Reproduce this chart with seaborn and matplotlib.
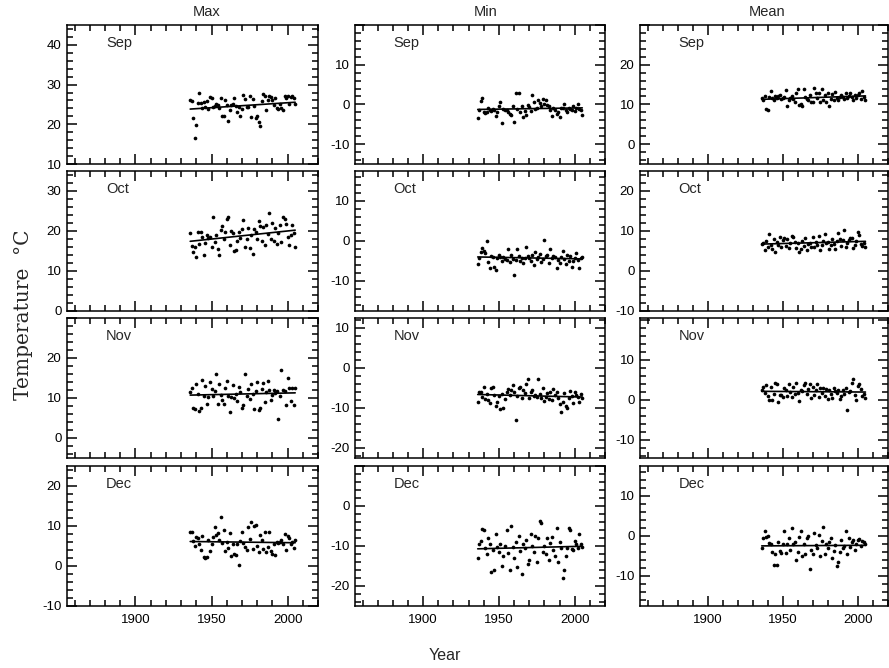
import matplotlib
matplotlib.use("Agg")
import matplotlib.pyplot as plt
from matplotlib.ticker import MultipleLocator, FuncFormatter
import seaborn as sns
import pandas as pd

sns.set_style("ticks")
plt.rcParams["font.family"] = ["Liberation Sans", "DejaVu Sans"]
plt.rcParams["axes.unicode_minus"] = False

years = list(range(1936, 2006))
months = ["Sep", "Oct", "Nov", "Dec"]
stats = ["Max", "Min", "Mean"]

max_sep = [26.2, 25.8, 21.7, 16.5, 19.7, 25.3, 27.8, 25.4, 24.0, 25.6,
           24.3, 25.8, 23.9, 26.8, 26.7, 24.3, 24.6, 25.2, 24.8, 24.2,
           26.5, 22.2, 22.0, 26.0, 24.8, 20.9, 23.6, 24.9, 25.0, 26.6,
           24.6, 23.2, 24.4, 22.2, 23.8, 27.5, 26.3, 24.4, 24.4, 27.0,
           21.8, 26.3, 24.7, 21.6, 22.0, 20.5, 19.5, 25.8, 27.6, 27.0,
           23.5, 26.2, 27.2, 26.8, 26.0, 24.9, 26.6, 24.0, 23.8, 25.0,
           24.0, 23.5, 27.2, 26.5, 27.0, 25.0, 26.8, 27.2, 26.5, 25.0]
max_oct = [19.4, 16.3, 14.7, 16.1, 13.6, 19.8, 16.7, 19.8, 18.6, 14.1,
           17.0, 19.0, 18.2, 18.5, 16.0, 23.6, 17.3, 19.0, 15.4, 13.9,
           20.3, 21.2, 18.0, 19.8, 23.0, 23.4, 16.6, 20.1, 19.5, 15.1,
           15.3, 17.6, 19.8, 18.3, 20.6, 22.8, 16.0, 18.0, 20.7, 15.8,
           18.9, 14.2, 20.5, 19.8, 18.0, 22.4, 21.3, 17.5, 21.0, 16.5,
           21.4, 19.2, 24.6, 18.1, 22.0, 17.6, 20.7, 16.8, 19.4, 21.6,
           17.2, 23.6, 23.1, 21.8, 18.5, 16.4, 19.0, 21.5, 19.6, 16.1]
max_nov = [11.5, 12.6, 7.6, 7.2, 13.6, 11.0, 6.8, 7.4, 14.5, 10.6,
           13.0, 8.6, 10.3, 14.0, 12.3, 10.5, 11.8, 16.0, 8.5, 13.6,
           10.8, 9.4, 8.4, 12.5, 14.3, 10.6, 6.6, 10.2, 13.3, 10.0,
           10.9, 9.2, 12.8, 11.5, 7.5, 8.2, 16.0, 10.6, 12.2, 9.8,
           13.6, 10.9, 7.2, 11.8, 14.0, 6.9, 7.4, 12.3, 13.8, 9.0,
           11.6, 14.2, 12.1, 9.4, 10.8, 12.0, 11.2, 11.7, 4.8, 10.5,
           17.0, 12.0, 11.7, 8.3, 15.0, 12.4, 9.2, 12.6, 8.3, 12.4]
max_dec = [8.6, 8.4, 6.2, 4.9, 7.3, 7.1, 5.5, 4.0, 7.4, 2.3,
           1.9, 2.2, 6.6, 3.8, 5.4, 7.3, 9.8, 7.8, 8.2, 6.5,
           12.2, 5.8, 9.0, 3.7, 6.0, 4.5, 8.3, 2.5, 5.5, 3.0,
           2.8, 5.6, 0.3, 6.2, 8.5, 5.8, 4.7, 3.9, 9.7, 6.7,
           11.0, 4.3, 10.0, 10.2, 5.1, 3.5, 7.8, 6.5, 4.2, 8.6,
           3.5, 4.8, 8.6, 3.8, 3.0, 5.5, 2.8, 6.1, 5.8, 6.0,
           6.4, 5.4, 8.0, 4.0, 7.5, 7.0, 5.5, 5.9, 4.6, 6.6]

min_sep = [-3.5, -1.5, 0.8, 1.5, -2.0, -2.1, -1.9, -1.0, -1.5, -1.6,
           -1.2, -1.5, -3.0, -1.9, -0.3, 0.5, -4.8, -1.1, -1.3, -1.4,
           -2.0, -2.3, -2.6, -0.3, -4.3, 2.8, -1.2, 3.0, -1.9, -0.5,
           -3.2, -1.7, -2.6, -0.1, -0.6, -1.6, 2.5, 0.6, -1.2, -0.8,
           1.0, 0.3, -0.5, 1.3, 0.0, 1.2, -0.1, -0.4, -1.4, -2.8,
           -1.0, -1.5, -2.4, -1.8, -3.1, -0.9, -1.0, 0.0, -1.3, -2.0,
           -0.8, -1.2, -1.5, -0.3, -1.6, -0.8, 0.1, -1.1, -1.4, -2.7]
min_oct = [-5.8, -4.2, -2.7, -1.7, -2.5, -3.0, 0.0, -5.2, -6.8, -3.8,
           -4.0, -6.5, -7.2, -4.3, -3.6, -4.0, -5.0, -3.9, -4.5, -4.8,
           -2.0, -5.3, -3.5, -4.6, -8.5, -4.7, -2.0, -3.8, -5.0, -4.2,
           -5.5, -4.3, -1.5, -3.7, -4.2, -5.0, -3.5, -6.0, -2.8, -4.4,
           -4.0, -3.3, -5.2, -4.6, 0.3, -3.8, -3.5, -5.5, -2.0, -4.2,
           -3.7, -3.9, -6.8, -4.8, -5.5, -4.1, -2.5, -4.6, -5.8, -3.5,
           -4.9, -3.8, -6.5, -5.0, -4.3, -3.0, -4.7, -6.8, -4.2, -3.9]
min_nov = [-8.5, -6.0, -5.9, -7.2, -4.8, -7.8, -6.5, -8.0, -8.8, -5.0,
           -4.7, -6.8, -9.5, -8.4, -7.0, -10.2, -6.5, -10.0, -7.8, -6.0,
           -5.2, -6.7, -5.5, -4.3, -6.1, -13.0, -6.9, -5.0, -4.8, -7.5,
           -5.5, -6.2, -4.0, -2.8, -7.5, -6.0, -5.4, -7.0, -6.8, -7.2,
           -2.7, -6.5, -7.6, -5.0, -8.3, -7.2, -6.3, -7.7, -6.0, -8.1,
           -5.2, -6.7, -5.9, -7.4, -9.0, -11.0, -8.5, -6.2, -9.6, -10.0,
           -7.5, -5.8, -7.1, -8.8, -6.1, -6.8, -7.3, -8.6, -6.5, -7.5]
min_dec = [-13.0, -9.5, -8.7, -5.8, -5.9, -10.5, -12.0, -8.0, -9.5, -16.5,
           -11.0, -16.0, -7.0, -10.3, -11.5, -9.5, -15.0, -12.5, -10.0, -6.0,
           -11.8, -16.0, -4.9, -10.3, -13.0, -9.0, -15.3, -7.5, -11.2, -17.0,
           -9.5, -10.5, -8.5, -14.5, -13.5, -7.0, -10.0, -11.5, -7.5, -14.0,
           -8.0, -3.7, -4.3, -11.5, -10.0, -12.0, -8.0, -13.5, -9.3, -7.8,
           -11.0, -12.5, -5.5, -14.0, -9.0, -10.5, -18.0, -16.0, -12.5, -10.5,
           -5.6, -6.0, -10.8, -11.0, -8.8, -9.5, -10.5, -6.9, -9.5, -10.2]

mean_sep = [11.5, 11.0, 12.2, 8.8, 8.5, 11.8, 13.3, 11.5, 11.0, 12.0,
            11.6, 12.0, 12.3, 11.4, 11.6, 11.8, 13.7, 9.5, 11.0, 11.5,
            12.0, 11.3, 10.5, 13.0, 14.0, 9.8, 10.2, 9.5, 13.8, 11.8,
            11.3, 11.0, 12.5, 10.5, 10.6, 14.2, 13.0, 11.5, 12.8, 10.6,
            13.9, 11.0, 12.5, 10.7, 13.0, 9.5, 11.3, 12.6, 11.0, 13.2,
            11.6, 11.0, 11.8, 12.5, 11.9, 11.4, 12.8, 11.5, 12.0, 13.0,
            11.8, 11.2, 12.5, 11.5, 12.3, 12.8, 11.4, 13.5, 11.9, 11.2]
mean_oct = [6.7, 7.0, 5.3, 7.4, 6.0, 9.3, 6.6, 5.5, 8.0, 4.8,
            7.2, 6.5, 8.6, 6.0, 7.7, 8.3, 6.2, 8.0, 5.7, 7.1,
            8.8, 8.5, 7.3, 5.8, 6.9, 4.7, 5.5, 7.6, 6.3, 8.2,
            5.3, 6.8, 7.0, 6.0, 8.4, 5.9, 7.3, 6.5, 8.7, 5.2,
            6.6, 7.5, 9.2, 6.9, 7.2, 5.6, 6.4, 8.0, 6.7, 5.4,
            7.4, 9.5, 8.1, 6.2, 7.7, 10.2, 6.0, 6.9, 7.8, 8.3,
            8.3, 5.8, 6.5, 7.5, 9.8, 9.0, 6.7, 6.3, 7.0, 6.0]
mean_nov = [2.5, 3.2, 1.8, 3.8, 1.0, 0.0, 3.2, 0.0, 1.5, 4.3,
            4.0, -0.5, 1.3, 1.2, 0.8, 3.0, 2.5, 1.0, 4.0, 2.0,
            0.8, 3.3, 1.5, 4.2, 1.8, -0.3, 2.4, 2.2, 3.8, 4.3,
            1.5, 2.8, 4.0, 0.5, 3.3, 1.2, 2.6, 4.1, 0.8, 2.9,
            1.7, 3.1, 1.0, 2.8, 0.3, 2.5, 1.6, 0.4, 3.0, 2.2,
            1.8, 2.6, 0.3, 1.1, 2.4, 1.6, 3.0, -2.5, 1.9, 2.2,
            4.3, 5.3, 1.2, 0.0, 3.5, 4.0, 2.8, 1.0, 1.5, 0.6]
mean_dec = [-3.0, -0.5, 1.3, -0.3, 0.0, -1.8, -2.0, -4.0, -7.3, -4.5,
            -7.3, -1.5, -3.8, -4.3, -2.0, 1.3, -4.2, -2.0, -0.5, -3.5,
            2.0, -2.0, -1.5, -6.0, -4.0, -0.2, 1.2, -5.0, -2.0, -4.5,
            -0.5, 0.0, -8.3, -3.5, -4.6, 0.8, -2.3, -3.0, 0.3, -5.0,
            -1.2, 2.3, -4.5, -2.0, -3.0, -1.5, -0.5, -5.5, -3.8, -2.2,
            -7.5, -6.5, -4.0, -1.0, -3.0, -2.5, 1.3, -4.5, -0.5, -2.8,
            -1.5, -1.0, -3.5, -2.0, -1.0, -0.8, -2.5, -1.2, -1.5, -2.0]

series = {
    ("Max", "Sep"): max_sep, ("Max", "Oct"): max_oct,
    ("Max", "Nov"): max_nov, ("Max", "Dec"): max_dec,
    ("Min", "Sep"): min_sep, ("Min", "Oct"): min_oct,
    ("Min", "Nov"): min_nov, ("Min", "Dec"): min_dec,
    ("Mean", "Sep"): mean_sep, ("Mean", "Oct"): mean_oct,
    ("Mean", "Nov"): mean_nov, ("Mean", "Dec"): mean_dec,
}
ylims = {
    ("Max", "Sep"): (10, 45), ("Max", "Oct"): (0, 35),
    ("Max", "Nov"): (-5, 30), ("Max", "Dec"): (-10, 25),
    ("Min", "Sep"): (-15, 20), ("Min", "Oct"): (-17.5, 17.5),
    ("Min", "Nov"): (-22.5, 12.5), ("Min", "Dec"): (-25, 10),
    ("Mean", "Sep"): (-5, 30), ("Mean", "Oct"): (-10, 25),
    ("Mean", "Nov"): (-14.5, 20.5), ("Mean", "Dec"): (-17.5, 17.5),
}

W, H = 889, 668
fig = plt.figure(figsize=(W / 100, H / 100), dpi=100)
cols_px = [(67, 318), (355, 605), (640, 888)]
rows_px = [(25, 164), (171, 311), (318, 458), (466, 606)]


def make_fmt(top):
    def fmt(v, pos):
        if v > top - 1.5:
            return ""
        return "%d" % round(v)
    return FuncFormatter(fmt)


for ci, stat in enumerate(stats):
    x0, x1 = cols_px[ci]
    for ri, mon in enumerate(months):
        y0, y1 = rows_px[ri]
        ax = fig.add_axes([x0 / W, 1 - y1 / H, (x1 - x0) / W, (y1 - y0) / H])
        df = pd.DataFrame({"year": years, "temp": series[(stat, mon)]})
        sns.regplot(data=df, x="year", y="temp", ax=ax, ci=None, color="black",
                    scatter_kws=dict(s=7, linewidths=0, alpha=1.0),
                    line_kws=dict(lw=1.2))
        lo, hi = ylims[(stat, mon)]
        ax.set_xlim(1855, 2020)
        ax.set_ylim(lo, hi)
        ax.xaxis.set_major_locator(MultipleLocator(50))
        ax.xaxis.set_minor_locator(MultipleLocator(10))
        ax.yaxis.set_major_locator(MultipleLocator(10))
        ax.yaxis.set_minor_locator(MultipleLocator(2))
        ax.yaxis.set_major_formatter(make_fmt(hi))
        ax.tick_params(which="both", direction="in", top=True, right=True,
                       width=1.1, colors="black", labelsize=9.5)
        ax.tick_params(which="major", length=7.5)
        ax.tick_params(which="minor", length=4.5)
        ax.tick_params(axis="y", pad=4)
        ax.tick_params(axis="x", pad=6)
        for sp in ax.spines.values():
            sp.set_linewidth(1.1)
            sp.set_color("black")
        ax.set_xlabel("")
        ax.set_ylabel("")
        if ri < 3:
            ax.tick_params(axis="x", labelbottom=False)
        ax.text(0.155, 0.87, mon, transform=ax.transAxes, ha="left",
                va="center", fontsize=10.5)

fig.text(207 / W, 1 - 12 / H, "Max", ha="center", va="center", fontsize=10.5)
fig.text(486 / W, 1 - 12 / H, "Min", ha="center", va="center", fontsize=10.5)
fig.text(767 / W, 1 - 12 / H, "Mean", ha="center", va="center", fontsize=10.5)
fig.text(445 / W, 1 - 655 / H, "Year", ha="center", va="center", fontsize=11.5)
fig.text(24 / W, 1 - 315 / H, "Temperature  °C", rotation=90, ha="center",
         va="center", fontsize=14.5, family=["DejaVu Serif"])

fig.savefig("out.png", dpi=100)
